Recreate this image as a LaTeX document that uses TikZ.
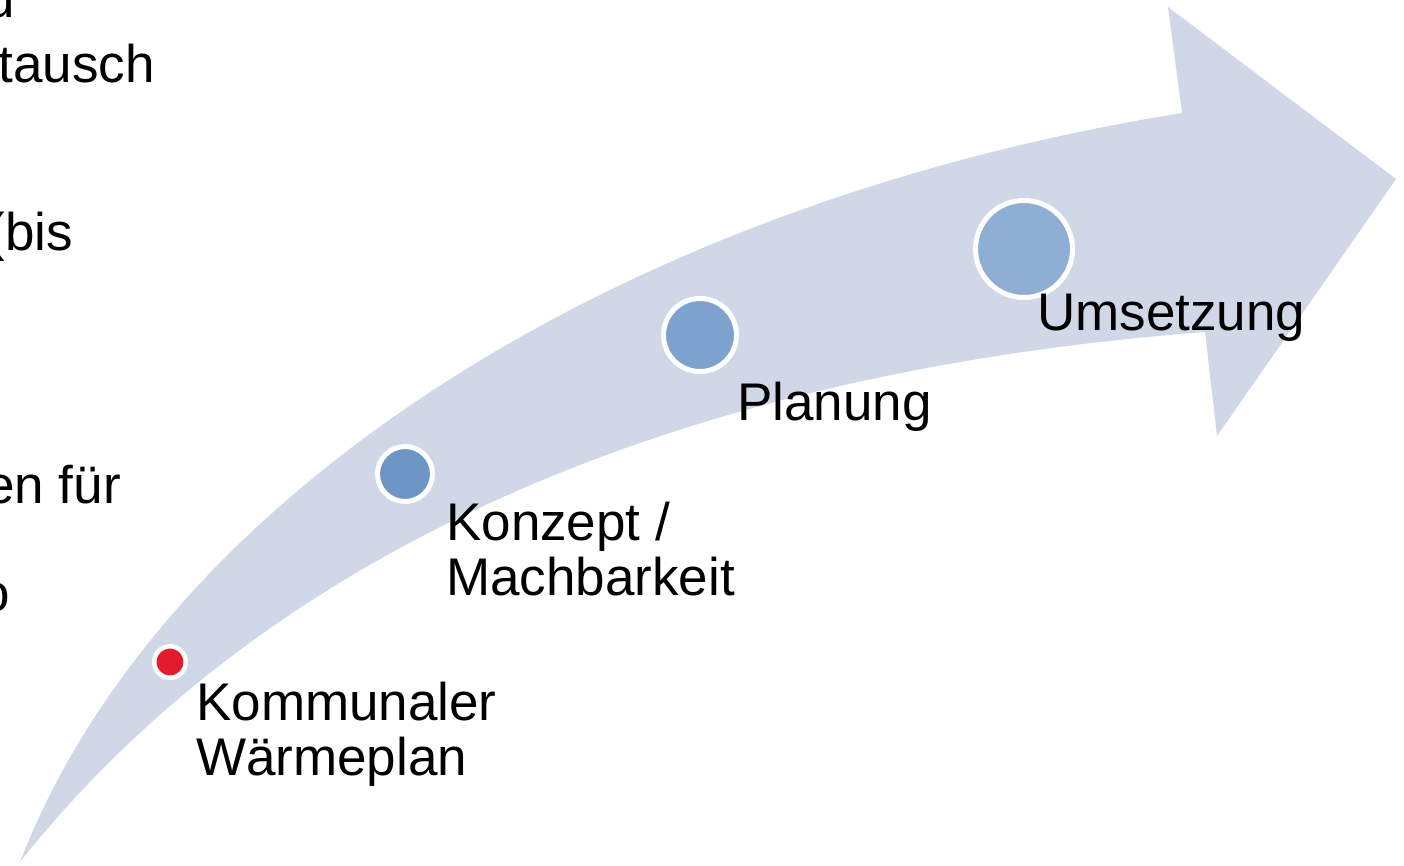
\documentclass[tikz,border=0pt]{standalone}
\usepackage{fontspec}
\setmainfont{Liberation Sans}
\definecolor{band}{HTML}{D0D8E8}
\definecolor{dotred}{HTML}{E31B2C}
\definecolor{blueA}{HTML}{6D96C7}
\definecolor{blueB}{HTML}{7EA2CE}
\definecolor{blueC}{HTML}{8FAED4}
\tikzset{
  lbl/.style={inner sep=0pt, font=\fontsize{53}{56}\selectfont, text=black},
  dot/.style={circle, draw=white, line width=5pt, inner sep=0pt},
}
\begin{document}
\begin{tikzpicture}[x=1pt,y=-1pt]
\useasboundingbox (0,0) rectangle (1404,865);
\clip (0,0) rectangle (1404,865);
% curved arrow
\fill[band] (20,862) .. controls (160,500) and (610,205) .. (1182,113)
  -- (1168,7) -- (1396,179) -- (1217,436) -- (1205,332)
  .. controls (580,380) and (220,610) .. (20,862) -- cycle;
% dots
\node[dot, fill=dotred, minimum size=31.5pt, line width=4.5pt] (d1) at (170,662) {};
\node[dot, fill=blueA, minimum size=55pt] (d2) at (405,474) {};
\node[dot, fill=blueB, minimum size=73pt] (d3) at (700,335) {};
\node[dot, fill=blueC, minimum size=97pt] (d4) at (1024,249) {};
% labels
\node[lbl, anchor=base west] (k1) at (196,720) {Kommunaler};
\node[lbl, anchor=base west] (k2) at (196,775) {Wärmeplan};
\node[lbl, anchor=base west] (m1) at (446,540) {Konzept /};
\node[lbl, anchor=base west] (m2) at (446,595) {Machbarkeit};
\node[lbl, anchor=base west] (p1) at (737,420) {Planung};
\node[lbl, anchor=base west] (u1) at (1037,330) {Umsetzung};
% cut-off text fragments at the left edge
\node[lbl, anchor=base east] (f1) at (15,17) {u};
\node[lbl, anchor=base east] (f2) at (155,82) {tausch};
\node[lbl, anchor=base east] (f3) at (73,250) {(bis};
\node[lbl, anchor=base east] (f4) at (121,503) {en für};
\node[lbl, anchor=base east] (f5) at (10,611) {o};
\end{tikzpicture}
\end{document}
